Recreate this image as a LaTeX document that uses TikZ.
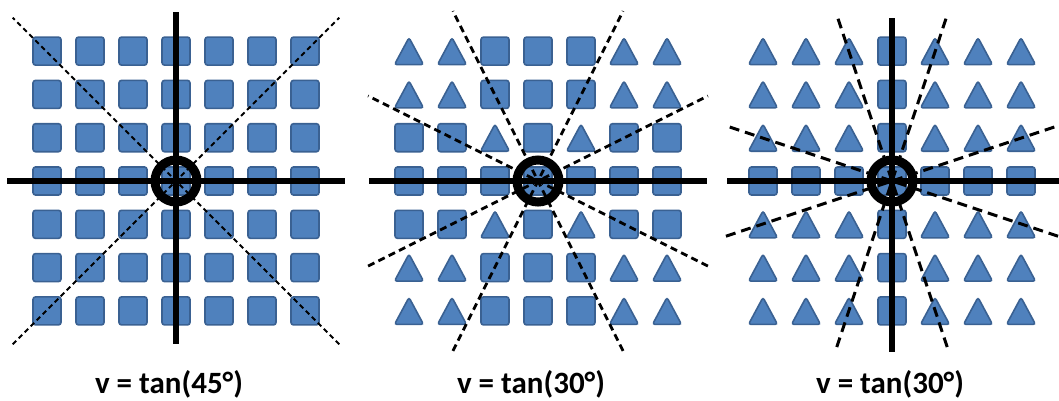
\documentclass[tikz,border=0pt]{standalone}
\usepackage{fontspec}
\setmainfont{Carlito}
\usetikzlibrary{calc}
\definecolor{cellblue}{HTML}{4F81BD}
\definecolor{celledge}{HTML}{3A6192}

\newcommand{\boxcell}[2]{\filldraw[cell] (#1-14,#2-14) rectangle (#1+14,#2+14);}
\newcommand{\tricell}[2]{\filldraw[cell] (#1-14.5,#2+13.5) -- (#1,#2-13.5) -- (#1+14.5,#2+13.5) -- cycle;}

\begin{document}
\begin{tikzpicture}[
    x=1pt, y=-1pt,
    cell/.style={fill=cellblue, draw=celledge, line width=1.6pt, rounded corners=2.5pt},
    axis/.style={line width=5.5pt},
    ring/.style={line width=9pt},
    label/.style={font=\bfseries\fontsize{31}{36}\selectfont}
]
    \useasboundingbox (0,0) rectangle (1059,400);

    % Panel 1: tan(45)
    \coordinate (c1) at (176,181);
    \foreach \i in {-3,...,3}
        \foreach \j in {-3,...,3}
            {\boxcell{176+\i*43}{181+\j*43.3}}
    \draw[line width=1.8pt, dash pattern=on 5pt off 3.5pt] ($(c1)+(45:231)$) -- ($(c1)+(225:231)$);
    \draw[line width=1.8pt, dash pattern=on 5pt off 3.5pt] ($(c1)+(135:231)$) -- ($(c1)+(315:231)$);
    \draw[axis] ($(c1)+(-169,0)$) -- ($(c1)+(169,0)$);
    \draw[axis] ($(c1)+(0,-169)$) -- ($(c1)+(0,163)$);
    \draw[ring] (c1) circle (21);
    \node[label] (lab1) at (169,384) {v = tan(45°)};

    % Panel 2: tan(30), horizontal axis only
    \coordinate (c2) at (538,181);
    \foreach \i in {-3,...,3}
        \foreach \j in {-3,...,3}
        {
            \pgfmathtruncatemacro\istri{((abs(\i)>1)&&(abs(\j)>1))||((abs(\i)==1)&&(abs(\j)==1))}
            \ifnum\istri=1 \tricell{538+\i*43}{181+\j*43.3}\else\boxcell{538+\i*43}{181+\j*43.3}\fi
        }
    \foreach \a in {26.6,63.4,116.6,153.4}
        \draw[line width=2.8pt, dash pattern=on 7pt off 4.5pt] ($(c2)+(\a:190)$) -- ($(c2)+(\a+180:190)$);
    \draw[axis] ($(c2)+(-169,0)$) -- ($(c2)+(169,0)$);
    \draw[ring] (c2) circle (21);
    \node[label] (lab2) at (531,384) {v = tan(30°)};

    % Panel 3: tan(30), both axes
    \coordinate (c3) at (892,181);
    \foreach \i in {-3,...,3}
        \foreach \j in {-3,...,3}
        {
            \pgfmathtruncatemacro\istri{(\i!=0)&&(\j!=0)}
            \ifnum\istri=1 \tricell{892+\i*43}{181+\j*43.3}\else\boxcell{892+\i*43}{181+\j*43.3}\fi
        }
    \foreach \a in {18.4,71.6,108.4,161.6}
        \draw[line width=3pt, dash pattern=on 10pt off 6pt] ($(c3)+(\a:175)$) -- ($(c3)+(\a+180:175)$);
    \draw[axis] ($(c3)+(-165,0)$) -- ($(c3)+(170,0)$);
    \draw[axis] ($(c3)+(0,-163)$) -- ($(c3)+(0,171)$);
    \draw[ring] (c3) circle (21);
    \node[label] (lab3) at (890,384) {v = tan(30°)};
\end{tikzpicture}
\end{document}
